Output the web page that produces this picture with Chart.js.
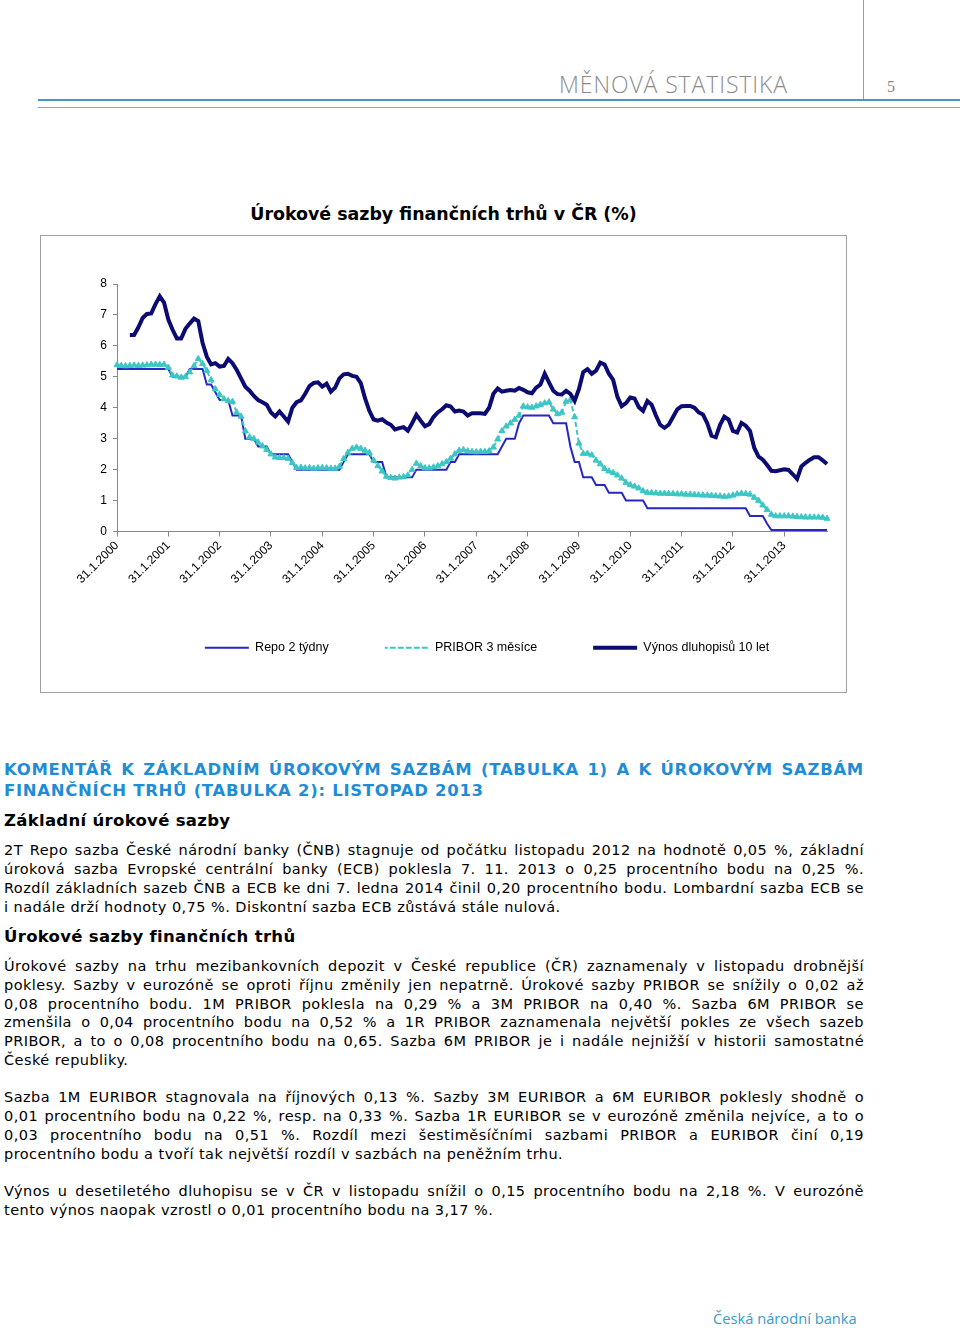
<!DOCTYPE html>
<html lang="cs">
<head>
<meta charset="utf-8">
<script src="https://cdn.jsdelivr.net/npm/chart.js@4/dist/chart.umd.min.js"></script>
<style>
  body { margin: 0; background: #fff; width: 960px; height: 1328px; position: relative; overflow: hidden; }
  .abs { position: absolute; }
  .hdr { font-family: "Open Sans", sans-serif; font-weight: 300; color: #8c8c8c; }
  .txt { font-family: "DejaVu Sans", Verdana, sans-serif; color: #000; left: 4px; width: 860px; }
  .txt div { text-align: justify; text-align-last: justify; white-space: nowrap; }
  .txt div.last { text-align-last: left; }
  .head { font-weight: bold; color: #1f8dd6; font-size: 16.5px; letter-spacing: 0.7px; line-height: 21px; }
  .sub { font-weight: bold; font-size: 16.5px; letter-spacing: 0.3px; line-height: 20px; }
  .par { font-size: 14.5px; letter-spacing: 0.45px; line-height: 19px; }
  #box { left: 40px; top: 235px; width: 807px; height: 458px; border: 1px solid #a0a0a0; box-sizing: border-box; }
</style>
</head>
<body>
<div class="abs" style="left:863px;top:0;width:1px;height:100px;background:#6fa8d0"></div>
<div class="abs" style="left:38px;top:99px;width:922px;height:2px;background:#4a97c4"></div>
<div class="abs" style="left:38px;top:107px;width:922px;height:1px;background:#6aaed3"></div>
<div class="abs hdr" style="right:172px;top:68px;font-size:23px;line-height:32px;letter-spacing:0.9px">MĚNOVÁ STATISTIKA</div>
<div class="abs" style="left:887px;top:78px;font-family:'Liberation Serif',serif;font-size:16px;color:#888">5</div>

<div class="abs" style="left:40px;width:807px;top:201px;text-align:center;font-family:'DejaVu Sans',sans-serif;font-weight:bold;font-size:17.4px;line-height:26px">Úrokové sazby finančních trhů v ČR (%)</div>

<div id="box" class="abs">
  <canvas id="chart" width="805" height="456"></canvas>
</div>

<div class="abs txt head" style="top:759px">
  <div>KOMENTÁŘ K ZÁKLADNÍM ÚROKOVÝM SAZBÁM (TABULKA 1) A K ÚROKOVÝM SAZBÁM</div>
  <div class="last">FINANČNÍCH TRHŮ (TABULKA 2): LISTOPAD 2013</div>
</div>
<div class="abs txt sub" style="top:811px"><div class="last">Základní úrokové sazby</div></div>
<div class="abs txt par" style="top:841px">
  <div>2T Repo sazba České národní banky (ČNB) stagnuje od počátku listopadu 2012 na hodnotě 0,05 %, základní</div>
  <div>úroková sazba Evropské centrální banky (ECB) poklesla 7. 11. 2013 o 0,25 procentního bodu na 0,25 %.</div>
  <div>Rozdíl základních sazeb ČNB a ECB ke dni 7. ledna 2014 činil 0,20 procentního bodu. Lombardní sazba ECB se</div>
  <div class="last">i nadále drží hodnoty 0,75 %. Diskontní sazba ECB zůstává stále nulová.</div>
</div>
<div class="abs txt sub" style="top:927px"><div class="last">Úrokové sazby finančních trhů</div></div>
<div class="abs txt par" style="top:957px;line-height:18.8px">
  <div>Úrokové sazby na trhu mezibankovních depozit v České republice (ČR) zaznamenaly v listopadu drobnější</div>
  <div>poklesy. Sazby v eurozóně se oproti říjnu změnily jen nepatrně. Úrokové sazby PRIBOR se snížily o 0,02 až</div>
  <div>0,08 procentního bodu. 1M PRIBOR poklesla na 0,29 % a 3M PRIBOR na 0,40 %. Sazba 6M PRIBOR se</div>
  <div>zmenšila o 0,04 procentního bodu na 0,52 % a 1R PRIBOR zaznamenala největší pokles ze všech sazeb</div>
  <div>PRIBOR, a to o 0,08 procentního bodu na 0,65. Sazba 6M PRIBOR je i nadále nejnižší v historii samostatné</div>
  <div class="last">České republiky.</div>
</div>
<div class="abs txt par" style="top:1088px">
  <div>Sazba 1M EURIBOR stagnovala na říjnových 0,13 %. Sazby 3M EURIBOR a 6M EURIBOR poklesly shodně o</div>
  <div>0,01 procentního bodu na 0,22 %, resp. na 0,33 %. Sazba 1R EURIBOR se v eurozóně změnila nejvíce, a to o</div>
  <div>0,03 procentního bodu na 0,51 %. Rozdíl mezi šestiměsíčními sazbami PRIBOR a EURIBOR činí 0,19</div>
  <div class="last">procentního bodu a tvoří tak největší rozdíl v sazbách na peněžním trhu.</div>
</div>
<div class="abs txt par" style="top:1182px">
  <div>Výnos u desetiletého dluhopisu se v ČR v listopadu snížil o 0,15 procentního bodu na 2,18 %. V eurozóně</div>
  <div class="last">tento výnos naopak vzrostl o 0,01 procentního bodu na 3,17 %.</div>
</div>

<div class="abs hdr" style="left:713px;top:1308px;font-size:14.7px;line-height:20px;font-weight:400;color:#3b9bc9">Česká národní banka</div>

<script>
// monthly categories, Jan 2000 .. Nov 2013
const months = [];
for (let y = 2000; y <= 2013; y++) {
  for (let m = 1; m <= 12; m++) {
    if (y === 2013 && m > 11) break;
    months.push(m + '/' + y);
  }
}

const tickLabels = ['31.1.2000', '31.1.2001', '31.1.2002', '31.1.2003', '31.1.2004', '31.1.2005', '31.1.2006',
  '31.1.2007', '31.1.2008', '31.1.2009', '31.1.2010', '31.1.2011', '31.1.2012', '31.1.2013'];

const seriesNames = ['Repo 2 týdny', 'PRIBOR 3 měsíce', 'Výnos dluhopisů 10 let'];

const repo = [
  5.25, 5.25, 5.25, 5.25, 5.25, 5.25, 5.25, 5.25, 5.25, 5.25, 5.25, 5.25,
  5.25, 5.00, 5.00, 5.00, 5.00, 5.25, 5.25, 5.25, 5.25, 4.75, 4.75, 4.50,
  4.25, 4.25, 4.25, 3.75, 3.75, 3.75, 3.00, 3.00, 3.00, 2.75, 2.75, 2.75,
  2.50, 2.50, 2.50, 2.50, 2.50, 2.25, 2.00, 2.00, 2.00, 2.00, 2.00, 2.00,
  2.00, 2.00, 2.00, 2.00, 2.00, 2.25, 2.50, 2.50, 2.50, 2.50, 2.50, 2.50,
  2.25, 2.25, 2.25, 1.75, 1.75, 1.75, 1.75, 1.75, 1.75, 1.75, 2.00, 2.00,
  2.00, 2.00, 2.00, 2.00, 2.00, 2.00, 2.25, 2.25, 2.50, 2.50, 2.50, 2.50,
  2.50, 2.50, 2.50, 2.50, 2.50, 2.50, 2.75, 3.00, 3.00, 3.00, 3.50, 3.75,
  3.75, 3.75, 3.75, 3.75, 3.75, 3.75, 3.50, 3.50, 3.50, 3.50, 2.75, 2.25,
  2.25, 1.75, 1.75, 1.75, 1.50, 1.50, 1.50, 1.25, 1.25, 1.25, 1.25, 1.00,
  1.00, 1.00, 1.00, 1.00, 0.75, 0.75, 0.75, 0.75, 0.75, 0.75, 0.75, 0.75,
  0.75, 0.75, 0.75, 0.75, 0.75, 0.75, 0.75, 0.75, 0.75, 0.75, 0.75, 0.75,
  0.75, 0.75, 0.75, 0.75, 0.50, 0.50, 0.50, 0.50, 0.25, 0.05, 0.05, 0.05,
  0.05, 0.05, 0.05, 0.05, 0.05, 0.05, 0.05, 0.05, 0.05, 0.05, 0.05
];

const pribor3m = [
  5.38, 5.36, 5.35, 5.36, 5.37, 5.36, 5.37, 5.38, 5.40, 5.40, 5.39, 5.40,
  5.30, 5.05, 5.02, 4.98, 5.00, 5.15, 5.35, 5.58, 5.42, 5.20, 4.90, 4.60,
  4.42, 4.28, 4.22, 4.20, 3.85, 3.72, 3.25, 3.05, 3.00, 2.88, 2.76, 2.64,
  2.50, 2.40, 2.38, 2.38, 2.36, 2.22, 2.06, 2.07, 2.05, 2.06, 2.04, 2.05,
  2.06, 2.05, 2.04, 2.04, 2.10, 2.35, 2.55, 2.68, 2.72, 2.68, 2.62, 2.55,
  2.30, 2.12, 1.95, 1.78, 1.74, 1.72, 1.75, 1.77, 1.82, 2.00, 2.20, 2.12,
  2.05, 2.05, 2.08, 2.12, 2.18, 2.25, 2.36, 2.50, 2.62, 2.64, 2.60, 2.58,
  2.57, 2.58, 2.58, 2.60, 2.72, 2.98, 3.25, 3.40, 3.50, 3.62, 3.75, 4.05,
  4.02, 4.01, 4.05, 4.10, 4.15, 4.18, 3.95, 3.80, 3.85, 4.20, 4.25, 3.70,
  2.85, 2.52, 2.52, 2.47, 2.30, 2.18, 2.03, 1.95, 1.90, 1.82, 1.72, 1.58,
  1.51, 1.46, 1.40, 1.31, 1.26, 1.25, 1.24, 1.23, 1.23, 1.22, 1.22, 1.21,
  1.21, 1.20, 1.20, 1.19, 1.18, 1.17, 1.17, 1.16, 1.15, 1.14, 1.13, 1.14,
  1.17, 1.21, 1.23, 1.22, 1.20, 1.10, 1.00, 0.85, 0.70, 0.55, 0.50, 0.50,
  0.50, 0.50, 0.49, 0.48, 0.47, 0.46, 0.46, 0.46, 0.46, 0.45, 0.42
];

const bond10y = [
  null, null, null, 6.35, 6.35, 6.60, 6.90, 7.03, 7.05, 7.35, 7.60, 7.40,
  6.85, 6.52, 6.24, 6.24, 6.55, 6.72, 6.88, 6.80, 6.10, 5.65, 5.40, 5.44,
  5.33, 5.35, 5.58, 5.44, 5.22, 4.95, 4.68, 4.55, 4.38, 4.25, 4.18, 4.10,
  3.85, 3.72, 3.88, 3.72, 3.55, 4.00, 4.18, 4.24, 4.45, 4.70, 4.80, 4.82,
  4.68, 4.78, 4.52, 4.65, 4.95, 5.08, 5.10, 5.03, 5.00, 4.80, 4.30, 3.90,
  3.62, 3.58, 3.63, 3.52, 3.45, 3.30, 3.34, 3.37, 3.26, 3.50, 3.77, 3.58,
  3.40, 3.47, 3.70, 3.85, 3.95, 4.08, 4.04, 3.88, 3.91, 3.88, 3.75, 3.82,
  3.82, 3.82, 3.80, 4.00, 4.45, 4.62, 4.52, 4.55, 4.57, 4.55, 4.64, 4.58,
  4.50, 4.47, 4.65, 4.75, 5.10, 4.82, 4.55, 4.44, 4.43, 4.55, 4.45, 4.22,
  4.60, 5.15, 5.25, 5.10, 5.20, 5.46, 5.40, 5.10, 4.90, 4.35, 4.05, 4.15,
  4.33, 4.30, 4.02, 3.90, 4.22, 4.10, 3.75, 3.45, 3.35, 3.45, 3.70, 3.95,
  4.05, 4.06, 4.06, 4.00, 3.85, 3.78, 3.50, 3.10, 3.05, 3.45, 3.71, 3.62,
  3.25, 3.20, 3.51, 3.42, 3.25, 2.70, 2.42, 2.32, 2.15, 1.96, 1.95, 1.98,
  2.01, 1.99, 1.85, 1.70, 2.10, 2.22, 2.32, 2.40, 2.40, 2.30, 2.18
];

const axisFont = { family: "'Liberation Sans', Arial, sans-serif", size: 12 };

// Excel put the legend a bit right of centre
const legendShift = {
  id: 'legendShift',
  afterLayout(chart) {
    chart.legend.left += 25;
    chart.legend.right += 25;
  }
};

const ctx = document.getElementById('chart').getContext('2d');
new Chart(ctx, {
  type: 'line',
  data: {
    labels: months,
    datasets: [
      {
        label: seriesNames[0],
        data: repo,
        borderColor: '#2727c2',
        backgroundColor: '#2727c2',
        borderWidth: 2,
        pointRadius: 0,
        tension: 0,
        order: 3
      },
      {
        label: seriesNames[1],
        data: pribor3m,
        borderColor: '#3cc6c4',
        backgroundColor: '#3cc6c4',
        borderWidth: 2,
        borderDash: [5, 3],
        pointStyle: 'triangle',
        pointRadius: 3.5,
        pointBorderWidth: 1,
        tension: 0,
        order: 2
      },
      {
        label: seriesNames[2],
        data: bond10y,
        borderColor: '#0b0b72',
        backgroundColor: '#0b0b72',
        borderWidth: 4,
        pointRadius: 0,
        tension: 0,
        order: 1
      }
    ]
  },
  options: {
    responsive: false,
    animation: false,
    layout: { padding: { top: 48, left: 56, right: 19, bottom: 28 } },
    plugins: {
      legend: {
        position: 'bottom',
        labels: {
          boxWidth: 44,
          boxHeight: 0,
          padding: 56,
          color: '#000',
          font: { family: axisFont.family, size: 12.5 },
          sort: (a, b) => a.datasetIndex - b.datasetIndex,
          // the legend sample is stroked there and back, so pick a dash that leaves gaps
          generateLabels: chart => Chart.defaults.plugins.legend.labels.generateLabels(chart).map(item => {
            if (item.lineDash && item.lineDash.length) item.lineDash = [3, 5];
            return item;
          })
        }
      },
      tooltip: { enabled: false }
    },
    scales: {
      x: {
        type: 'category',
        grid: { drawOnChartArea: false, tickLength: 5, color: '#888' },
        border: { color: '#888' },
        ticks: {
          autoSkip: false,
          minRotation: 45,
          maxRotation: 45,
          padding: 2,
          color: '#000',
          font: axisFont,
          callback: v => tickLabels[v / 12]
        },
        afterBuildTicks: s => { s.ticks = s.ticks.filter(t => t.value % 12 === 0); },
        afterFit: s => { s.height = 54; }
      },
      y: {
        min: 0,
        max: 8,
        grid: { drawOnChartArea: false, tickLength: 4, color: '#888' },
        border: { color: '#888' },
        ticks: { stepSize: 1, padding: 6, color: '#000', font: axisFont },
        afterFit: s => { s.width = 20; }
      }
    }
  },
  plugins: [legendShift]
});
</script>
</body>
</html>
